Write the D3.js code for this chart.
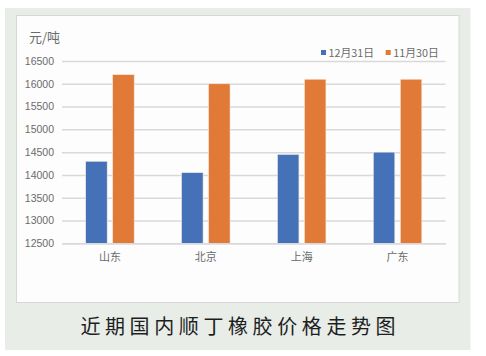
<!DOCTYPE html>
<html><head><meta charset="utf-8">
<script src="https://cdn.jsdelivr.net/npm/d3@7"></script>
<style>
html,body{margin:0;padding:0;background:#fff;}
svg{display:block;font-family:"Noto Sans CJK SC","Noto Sans",sans-serif;}
</style></head>
<body>
<script>
const categories = ["山东","北京","上海","广东"];
const seriesNames = ["12月31日","11月30日"];
const dec31 = [14300,14050,14450,14500];
const nov30 = [16200,16000,16100,16100];
const yTicks = [12500,13000,13500,14000,14500,15000,15500,16000,16500];
const unitLabel = "元/吨";
const title = "近期国内顺丁橡胶价格走势图";
const colors = ["#4571B8","#E07A36"];

const W=486,H=356;
const svg=d3.select("body").append("svg").attr("width",W).attr("height",H);
svg.append("rect").attr("x",5).attr("y",8).attr("width",465.5).attr("height",342).attr("fill","#e8ede8");
svg.append("rect").attr("x",16.5).attr("y",15.5).attr("width",442.5).attr("height",287).attr("fill","#fdfdfd").attr("stroke","#d6d8d6").attr("stroke-width",1);

const x0=d3.scaleBand().domain(categories).range([62,445.5]);
const y=d3.scaleLinear().domain([12500,16500]).range([243.3,61]);

// grid
const gAxis=svg.append("g").attr("transform","translate(62,0)")
  .call(d3.axisLeft(y).tickValues(yTicks).tickSize(-383.5).tickPadding(8).tickFormat(d3.format("d")));
gAxis.select(".domain").remove();
gAxis.selectAll(".tick line").attr("stroke","#d9d9d9").attr("stroke-width",1.5);
gAxis.selectAll(".tick text").attr("fill","#6b6b6b").attr("font-size","10.5px").attr("font-family","Liberation Sans, Arial, sans-serif");

const data=categories.map((c,i)=>({c,vals:[dec31[i],nov30[i]]}));
const barW=21.5, gap=5.5;
const g=svg.append("g");
data.forEach(d=>{
  const cx=x0(d.c)+x0.bandwidth()/2;
  d.vals.forEach((v,j)=>{
    const bx = j===0 ? cx-gap/2-barW : cx+gap/2;
    g.append("rect").attr("x",bx).attr("y",y(v)).attr("width",barW).attr("height",y(12500)-y(v))
     .attr("fill",colors[j]).attr("stroke","#f2e9e4").attr("stroke-width",0.6);
  });
});

// x axis
const gx=svg.append("g").attr("transform","translate(0,243.3)").call(d3.axisBottom(x0).tickSize(0).tickPadding(10));
gx.select(".domain").attr("stroke","#d9d9d9").attr("stroke-width",1.5);
gx.selectAll("text").attr("fill","#6b6b6b").attr("font-size","11px").attr("font-family","Noto Sans CJK SC");

// unit
svg.append("text").attr("x",29).attr("y",42).text(unitLabel).attr("fill","#6b6b6b").attr("font-size","13px");

// legend
const legX=[321,385.7];
seriesNames.forEach((n,i)=>{
  svg.append("rect").attr("x",legX[i]).attr("y",50).attr("width",5).attr("height",5).attr("fill",colors[i]);
  svg.append("text").attr("x",legX[i]+7.5).attr("y",56.5).text(n).attr("fill","#6b6b6b").attr("font-size","10.8px");
});

// title
svg.append("text").attr("x",240.3).attr("y",334).attr("text-anchor","middle").text(title)
  .attr("fill","#1e1e1e").attr("font-size","20px").attr("letter-spacing","4.6px").attr("font-weight","400");
</script>
</body></html>
